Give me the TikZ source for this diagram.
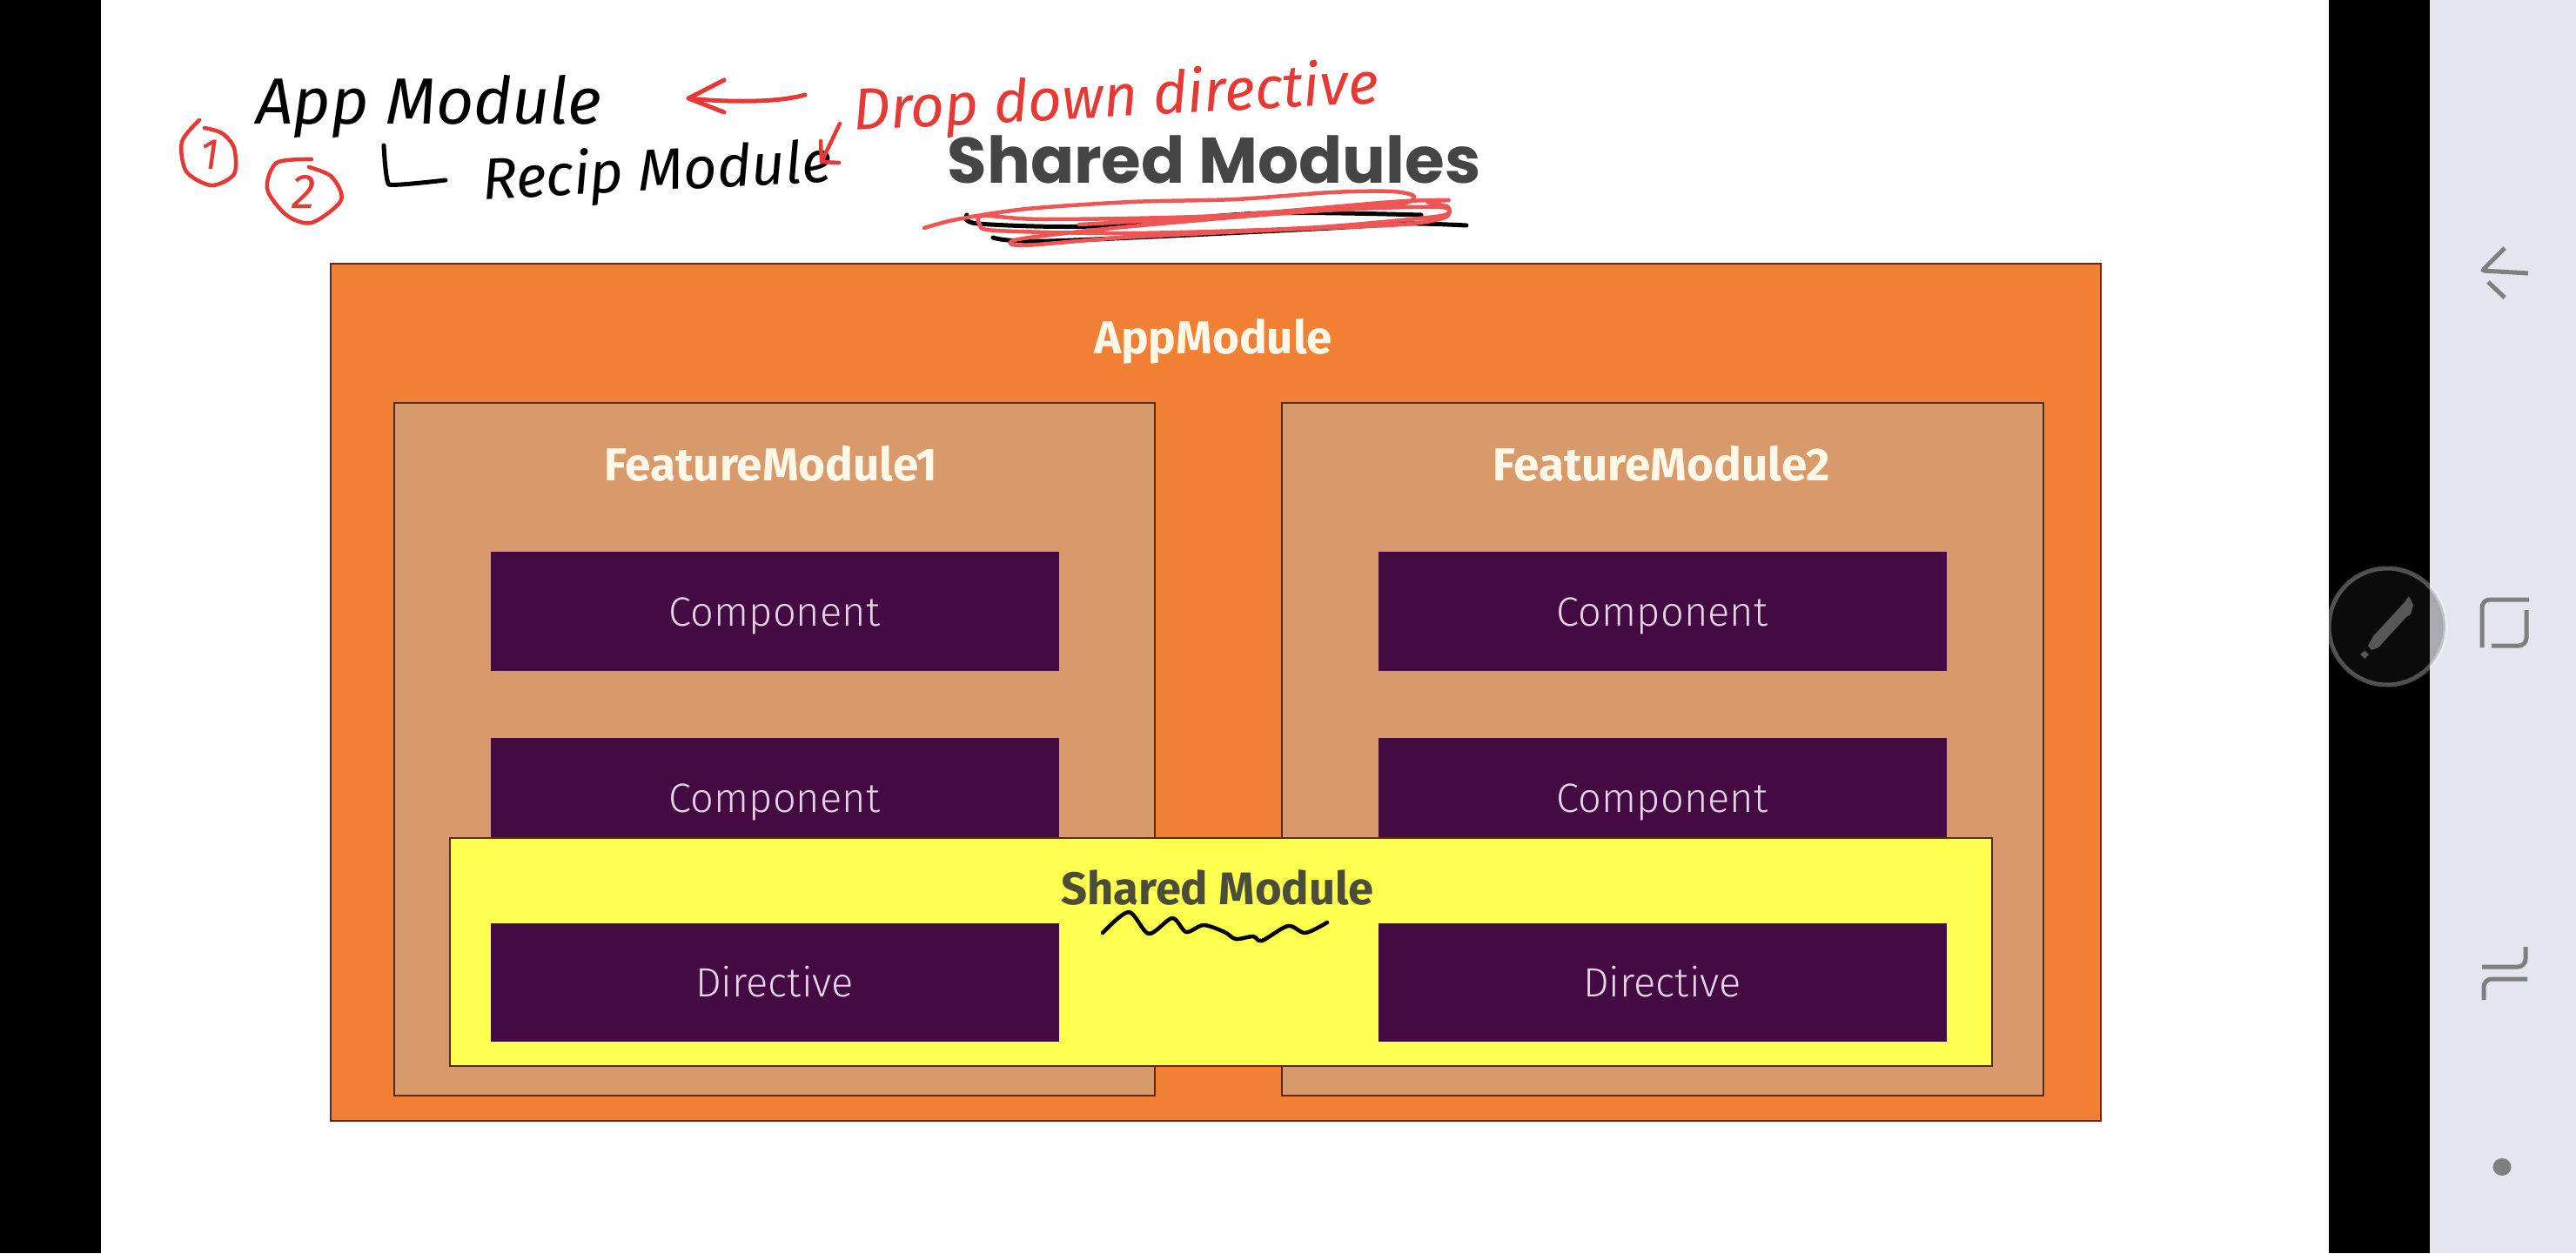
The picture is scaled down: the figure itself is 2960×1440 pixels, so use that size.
\documentclass[tikz,border=0pt]{standalone}
\usepackage{fontspec}
\setmainfont{Fira Sans}
\newfontfamily\titlefont{Poppins}
\newfontfamily\lightfont{Fira Sans Light}
\definecolor{orangeM}{HTML}{F28034}
\definecolor{tanM}{HTML}{D89A6B}
\definecolor{purpleM}{HTML}{440A42}
\definecolor{yellowM}{HTML}{FFFF4F}
\definecolor{edgeM}{HTML}{5A2A20}
\definecolor{creamT}{HTML}{FFF8E8}
\definecolor{compT}{HTML}{E8D2E8}
\definecolor{titleT}{HTML}{454545}
\definecolor{sharedT}{HTML}{4B4D38}
\definecolor{panelC}{HTML}{E5E5EF}
\definecolor{iconC}{HTML}{7F7F7F}
\definecolor{redH}{HTML}{E53935}
\definecolor{redS}{HTML}{EE5555}
\tikzset{
  modbox/.style={draw=edgeM,line width=2pt,inner sep=0pt},
  compbox/.style={fill=purpleM,draw=purpleM,line width=1pt,minimum width=652pt,inner sep=0pt,text=compT,text height=38pt,text depth=4pt,font=\lightfont\fontsize{47}{50}\selectfont},
  headtext/.style={text=creamT,inner sep=0pt,font=\bfseries\fontsize{53}{56}\selectfont},
  redpen/.style={draw=redH,line width=4.5pt,line cap=round,line join=round},
  blackpen/.style={draw=black,line width=4.5pt,line cap=round,line join=round},
  navicon/.style={draw=iconC,line width=5pt,rounded corners=9pt},
  handtext/.style={inner sep=0pt,font=\itshape\fontsize{68}{72}\selectfont}
}
\begin{document}
\begin{tikzpicture}[x=1pt,y=-1pt]
\useasboundingbox (0,0) rectangle (2960,1440);
% screen
\fill[white] (0,0) rectangle (2960,1440);
\fill[black] (0,0) rectangle (116,1440);
\fill[black] (2676,0) rectangle (2792,1440);
\fill[panelC] (2792,0) rectangle (2960,1440);
% modules
\node[modbox,fill=orangeM,minimum width=2034pt,minimum height=985pt] (app) at (1397,795.5) {};
\node[headtext] (applabel) at (1394,392) {AppModule};
\node[modbox,fill=tanM,minimum width=874pt,minimum height=796pt] (fm1) at (890,861) {};
\node[modbox,fill=tanM,minimum width=875pt,minimum height=796pt] (fm2) at (1910,861) {};
\node[headtext] (fm1label) at (886,533) {FeatureModule1};
\node[headtext] (fm2label) at (1909,533) {FeatureModule2};
\node[compbox,minimum height=136pt] (c11) at (890,702) {Component};
\node[compbox,minimum height=136pt] (c21) at (1910,702) {Component};
\node[compbox,minimum height=136pt] (c12) at (890,916) {Component};
\node[compbox,minimum height=136pt] (c22) at (1910,916) {Component};
\node[modbox,fill=yellowM,minimum width=1772pt,minimum height=262pt] (shared) at (1403,1094) {};
\node[inner sep=0pt,text=sharedT,font=\bfseries\fontsize{52.5}{56}\selectfont] (sharedlabel) at (1399,1020) {Shared Module};
\node[compbox,minimum height=135pt] (d1) at (890,1128.5) {Directive};
\node[compbox,minimum height=135pt] (d2) at (1910,1128.5) {Directive};
\node[inner sep=0pt,text=titleT,font=\titlefont\bfseries\fontsize{74}{78}\selectfont] (title) at (1395,183) {Shared Modules};
% scribble under the title
\draw[blackpen,line width=5pt] plot[smooth] coordinates {(1111,247) (1124,257) (1256,260) (1450,245) (1633,247)};
\draw[blackpen,line width=5pt] plot[smooth] coordinates {(1141,273) (1205,277) (1511,263) (1613,257) (1685,259)};
\draw[draw=redS,line width=4.5pt,line cap=round,line join=round] plot[smooth,tension=.5] coordinates {(1062,262) (1100,252) (1180,240) (1300,232) (1420,229) (1530,221) (1600,220) (1625,226) (1600,236) (1450,247) (1280,262) (1170,275) (1175,282) (1290,273) (1450,265) (1610,258) (1660,250) (1664,238) (1640,232) (1664,230) (1600,232) (1400,248) (1200,252) (1130,248) (1126,258) (1145,265) (1300,268) (1500,262) (1640,250) (1664,245) (1655,238) (1560,240) (1350,252) (1240,258)};
% squiggle under the shared module label
\draw[blackpen] plot[smooth] coordinates {(1267,1072) (1297,1048) (1320,1073) (1347,1055) (1363,1071) (1383,1063) (1407,1071) (1420,1079) (1440,1076) (1450,1081) (1480,1064) (1500,1072) (1525,1060)};
% handwritten notes
\node[handtext,text=black,font=\itshape\fontsize{75}{79}\selectfont] (noteapp) at (493,122) {App Module};
\node[handtext,text=black,rotate=3,font=\itshape\fontsize{67}{71}\selectfont] (noterecip) at (755,200) {Recip Module};
\node[handtext,text=redH,rotate=3,font=\itshape\fontsize{67.5}{71}\selectfont] (notedrop) at (1282,115) {Drop down directive};
\draw[blackpen,line width=5pt] plot[smooth,tension=.2] coordinates {(441,167) (447,212) (512,207)};
\node[inner sep=0pt,text=redH,font=\itshape\fontsize{50}{54}\selectfont] (one) at (241,178) {1};
\draw[redpen] plot[smooth] coordinates {(229,138) (209,163) (214,197) (243,213) (269,200) (269,170) (255,153) (235,147)};
\node[inner sep=0pt,text=redH,font=\itshape\fontsize{56}{60}\selectfont] (two) at (349,220) {2};
\draw[redpen] plot[smooth] coordinates {(358,183) (318,187) (307,217) (329,247) (358,256) (392,230) (381,203) (355,192)};
% red arrows
\coordinate (arrA) at (925,109);
\coordinate (arrB) at (791,113);
\draw[redpen,line width=5pt] (arrA) .. controls (886,120) and (817,116) .. (arrB);
\draw[redpen,line width=5pt] (832,92) -- (arrB) -- (832,129);
\coordinate (arrC) at (965,142);
\coordinate (arrD) at (944,186);
\draw[redpen] (arrC) -- (arrD);
\draw[redpen] (943,162) -- (arrD) -- (964,187);
% navigation bar
\draw[navicon,rounded corners=3pt] (2878,285) -- (2852,311) -- (2905,314);
\draw[navicon,rounded corners=0pt] (2859,324) -- (2878,342);
\draw[navicon] (2906,689) -- (2852,689) -- (2852,744);
\draw[navicon] (2903,701) -- (2903,742) -- (2863,742);
\draw[navicon] (2902,1088) -- (2902,1111) -- (2852,1111);
\draw[navicon] (2904,1125) -- (2854,1125) -- (2854,1149);
\fill[iconC] (2875,1341) ellipse (10.5pt and 10pt);
% pen button
\fill[fill=black!85,fill opacity=.31] (2743,720) circle (67pt);
\draw[white,opacity=.3,line width=5pt] (2743,720) circle (67pt);
\fill[black!66] (2768,685) -- (2773,695) -- (2770,706) -- (2765,709) -- (2733,744) -- (2725,747) -- (2721,742) -- (2727,731) -- (2763,692) -- cycle;
\fill[black!66] (2717,748) -- (2722,752) -- (2717,757) -- (2712,752) -- cycle;
\end{tikzpicture}
\end{document}
